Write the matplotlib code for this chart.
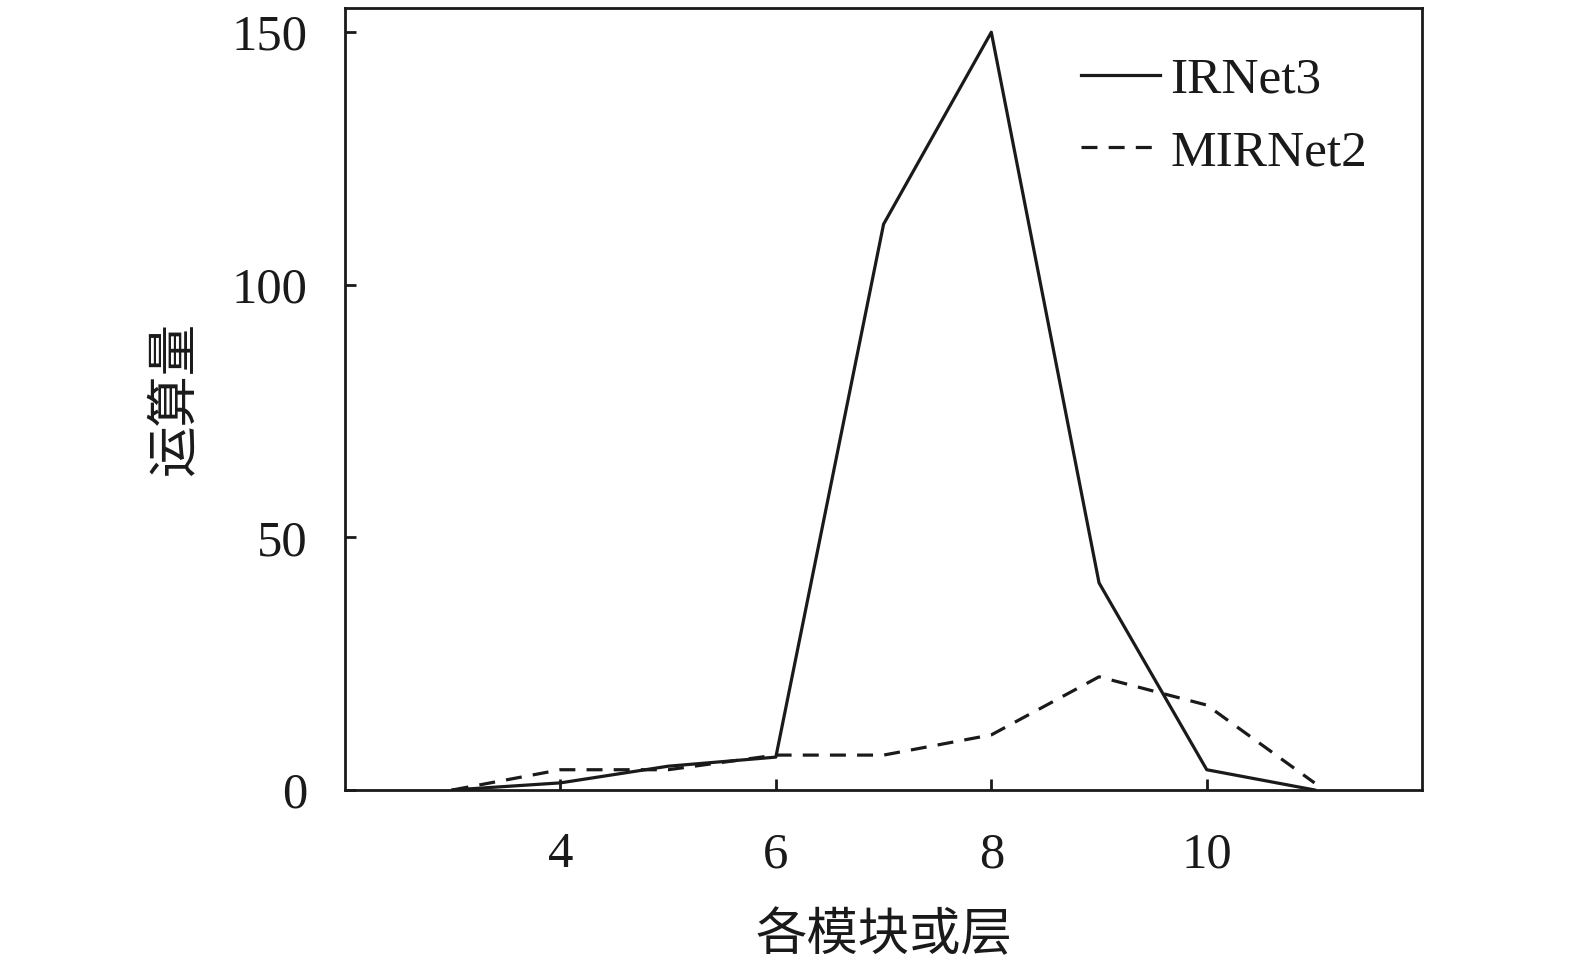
import matplotlib
matplotlib.use("Agg")
import matplotlib.pyplot as plt

x = [3, 4, 5, 6, 7, 8, 9, 10, 11]
irnet3 = [0, 1.4, 4.7, 6.5, 112, 150, 41, 4, 0]
mirnet2 = [0, 4, 4, 6.9, 6.9, 10.9, 22.4, 16.8, 1.4]
xticks = [4, 6, 8, 10]
yticks = [0, 50, 100, 150]

serif = ['Liberation Serif', 'DejaVu Serif']
cjk = ['Noto Sans CJK SC', 'DejaVu Sans']

fig = plt.figure(figsize=(15.75, 9.63), dpi=100)
ax = fig.add_axes([0.219, 0.1797, 0.684, 0.812])
ax.plot(x, irnet3, color='#1a1a1a', lw=2.3, label='IRNet3')
ax.plot(x, mirnet2, color='#1a1a1a', lw=2.3, ls=(0, (5.0, 3.5)), label='MIRNet2')
ax.set_xlim(2, 12)
ax.set_ylim(0, 154.8)
ax.set_xticks(xticks)
ax.set_yticks(yticks)
ax.tick_params(direction='in', length=8, width=2, labelsize=36.5, pad=27, colors='#1a1a1a')
ax.tick_params(axis='x', pad=30)
for lab in ax.get_xticklabels() + ax.get_yticklabels():
    lab.set_family(serif)
for s in ax.spines.values():
    s.set_linewidth(2)
    s.set_color('#1a1a1a')
ax.set_xlabel('各模块或层', family=cjk, fontsize=37, labelpad=22, color='#1a1a1a')
ax.set_ylabel('运算量', family=cjk, fontsize=37, labelpad=22, color='#1a1a1a')
leg = ax.legend(loc='upper left', frameon=False, prop={'family': serif, 'size': 37},
                handlelength=1.55, handletextpad=0.2, labelspacing=0.5,
                bbox_to_anchor=(0.64, 0.997))
for t in leg.get_texts():
    t.set_color('#1a1a1a')
fig.savefig('out.png', dpi=100)
